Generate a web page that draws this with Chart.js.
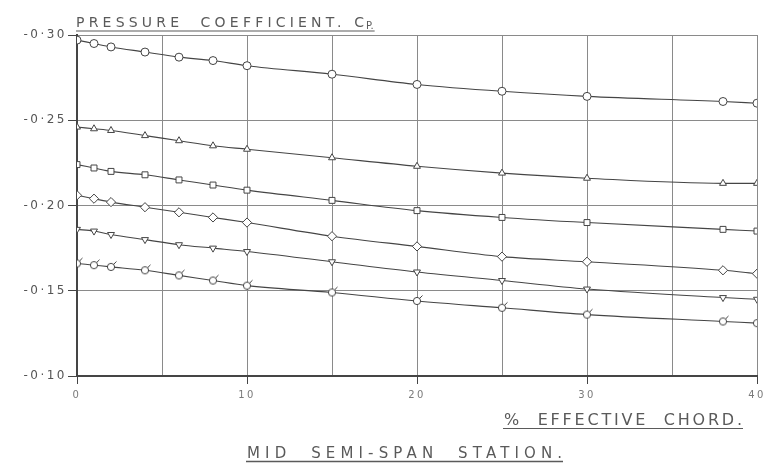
<!DOCTYPE html>
<html>
<head>
<meta charset="utf-8">
<script src="https://cdn.jsdelivr.net/npm/chart.js@4/dist/chart.umd.min.js"></script>
<style>
  html, body { margin: 0; padding: 0; background: #ffffff; }
  #wrap { width: 769px; height: 466px; }
</style>
</head>
<body>
<div id="wrap"><canvas id="cp" width="769" height="466"></canvas></div>
<script>
// Chordwise stations (% effective chord)
const chordStations = [0, 1, 2, 4, 6, 8, 10, 15, 20, 25, 30, 38, 40];

// Pressure coefficient Cp, one curve per plotting symbol
const cpCircle   = [-0.297, -0.295, -0.293, -0.290, -0.287, -0.285, -0.282, -0.277, -0.271, -0.267, -0.264, -0.261, -0.260];
const cpTriangle = [-0.246, -0.245, -0.244, -0.241, -0.238, -0.235, -0.233, -0.228, -0.223, -0.219, -0.216, -0.213, -0.213];
const cpSquare   = [-0.224, -0.222, -0.220, -0.218, -0.215, -0.212, -0.209, -0.203, -0.197, -0.193, -0.190, -0.186, -0.185];
const cpDiamond  = [-0.206, -0.204, -0.202, -0.199, -0.196, -0.193, -0.190, -0.182, -0.176, -0.170, -0.167, -0.162, -0.160];
const cpInverted = [-0.186, -0.185, -0.183, -0.180, -0.177, -0.175, -0.173, -0.167, -0.161, -0.156, -0.151, -0.146, -0.145];
const cpFlagged  = [-0.166, -0.165, -0.164, -0.162, -0.159, -0.156, -0.153, -0.149, -0.144, -0.140, -0.136, -0.132, -0.131];

// Axis tick labels
const xTickLabels = ['0', '10', '20', '30', '40'];
const yTickLabels = ['-0·30', '-0·25', '-0·20', '-0·15', '-0·10'];

// Captions
const yAxisTitle = 'PRESSURE  COEFFICIENT. C';
const yAxisTitleSub = 'P.';
const xAxisTitle = '%  EFFECTIVE  CHORD.';
const captionText = 'MID  SEMI-SPAN  STATION.';

const INK = '#454545';
const GRID = '#8a8a8a';
const LETTER = '#5a5a5a';

// Circle with a small flag stroke, used as a point symbol
function flaggedCircle() {
  const c = document.createElement('canvas');
  c.width = 14; c.height = 14;
  const g = c.getContext('2d');
  g.strokeStyle = INK; g.lineWidth = 1; g.fillStyle = '#fff';
  g.beginPath(); g.arc(7, 7, 3.6, 0, Math.PI * 2); g.fill(); g.stroke();
  g.beginPath(); g.moveTo(9.5, 4.5); g.lineTo(12.5, 1.5); g.stroke();
  return c;
}

function toPoints(values) {
  return chordStations.map((x, i) => ({ x: x, y: values[i] }));
}

function series(values, style, extra) {
  return Object.assign({
    data: toPoints(values),
    borderColor: INK,
    borderWidth: 1.1,
    backgroundColor: '#ffffff',
    pointBorderColor: INK,
    pointBackgroundColor: '#ffffff',
    pointBorderWidth: 1,
    pointRadius: 4,
    pointStyle: style,
    cubicInterpolationMode: 'monotone',
    fill: false
  }, extra || {});
}

// Draws text stretched to a given width through letter spacing
function spacedText(ctx, text, x, y, width, font) {
  ctx.font = font;
  ctx.letterSpacing = '0px';
  const w = ctx.measureText(text).width;
  const sp = Math.max(0, (width - w) / Math.max(1, text.length - 1));
  ctx.letterSpacing = sp.toFixed(2) + 'px';
  ctx.fillText(text, x, y);
  ctx.letterSpacing = '0px';
  return x + w + sp * (text.length - 1);
}

const paperPlugin = {
  id: 'paper',
  beforeDraw(chart) {
    const ctx = chart.ctx;
    ctx.save();
    ctx.fillStyle = '#ffffff';
    ctx.fillRect(0, 0, chart.width, chart.height);
    ctx.restore();
    // open lettering for the tick labels
    ctx.letterSpacing = '2.5px';
  },
  beforeDatasetsDraw(chart) {
    chart.ctx.letterSpacing = '0px';
  }
};

const captionPlugin = {
  id: 'captions',
  afterDraw(chart) {
    const ctx = chart.ctx;
    const area = chart.chartArea;
    ctx.save();
    ctx.fillStyle = LETTER;
    ctx.strokeStyle = LETTER;
    ctx.textBaseline = 'alphabetic';
    ctx.textAlign = 'left';

    // Quantity label above the plot
    const tx = area.left - 1;
    const ty = area.top - 8;
    const end = spacedText(ctx, yAxisTitle, tx, ty, 288, '14px "DejaVu Sans"');
    ctx.font = '10px "DejaVu Sans"';
    ctx.fillText(yAxisTitleSub, end + 2, ty + 2);
    const subEnd = end + 2 + ctx.measureText(yAxisTitleSub).width;
    ctx.lineWidth = 1.2;
    ctx.beginPath(); ctx.moveTo(tx, ty + 4); ctx.lineTo(subEnd + 1, ty + 4); ctx.stroke();

    // Abscissa label, right side below the ticks
    const ax = chart.scales.x;
    const xr = ax.getPixelForValue(40) - 15;
    const xl = xr - 238;
    spacedText(ctx, xAxisTitle, xl, area.bottom + 49, 238, '16px "DejaVu Sans"');
    ctx.beginPath(); ctx.moveTo(xl - 1, area.bottom + 52.5); ctx.lineTo(xr + 1, area.bottom + 52.5); ctx.stroke();

    // Station caption
    const cl = 247, cw = 315;
    spacedText(ctx, captionText, cl, area.bottom + 82, cw, '15px "DejaVu Sans"');
    ctx.lineWidth = 1.4;
    ctx.beginPath(); ctx.moveTo(cl - 1, area.bottom + 85.5); ctx.lineTo(cl + cw + 1, area.bottom + 85.5); ctx.stroke();
    ctx.restore();
  }
};

const chart = new Chart(document.getElementById('cp'), {
  type: 'line',
  data: {
    datasets: [
      series(cpCircle, 'circle'),
      series(cpTriangle, 'triangle'),
      series(cpSquare, 'rect', { pointRadius: 4.2 }),
      series(cpDiamond, 'rectRot', { pointRadius: 4.6 }),
      series(cpInverted, 'triangle', { pointRotation: 180 }),
      series(cpFlagged, flaggedCircle())
    ]
  },
  options: {
    responsive: false,
    animation: false,
    layout: { padding: { top: 35, right: 12, bottom: 0, left: 0 } },
    plugins: {
      legend: { display: false },
      tooltip: { enabled: false },
      title: { display: false }
    },
    scales: {
      x: {
        type: 'linear',
        min: 0,
        max: 40,
        afterFit(scale) { scale.height = 90; },
        ticks: {
          stepSize: 5,
          autoSkip: false,
          maxRotation: 0,
          padding: 5,
          color: '#7a7a7a',
          font: { family: 'DejaVu Sans', size: 10 },
          callback: (v) => (v % 10 === 0 ? xTickLabels[v / 10] : '')
        },
        grid: {
          color: GRID,
          lineWidth: 1,
          tickLength: 8,
          tickColor: (c) => (c.tick && c.tick.value % 10 === 0 ? INK : 'rgba(0,0,0,0)')
        },
        border: { color: INK, width: 2 }
      },
      y: {
        type: 'linear',
        min: -0.30,
        max: -0.10,
        reverse: true,
        afterFit(scale) { scale.width = 77; },
        ticks: {
          stepSize: 0.05,
          padding: 1,
          color: '#555',
          font: { family: 'DejaVu Sans', size: 12 },
          callback: (v) => yTickLabels[Math.round((v + 0.30) / 0.05)]
        },
        grid: {
          color: GRID,
          lineWidth: 1,
          tickLength: 9,
          tickColor: INK
        },
        border: { color: INK, width: 2 }
      }
    }
  },
  plugins: [paperPlugin, captionPlugin]
});
</script>
</body>
</html>
